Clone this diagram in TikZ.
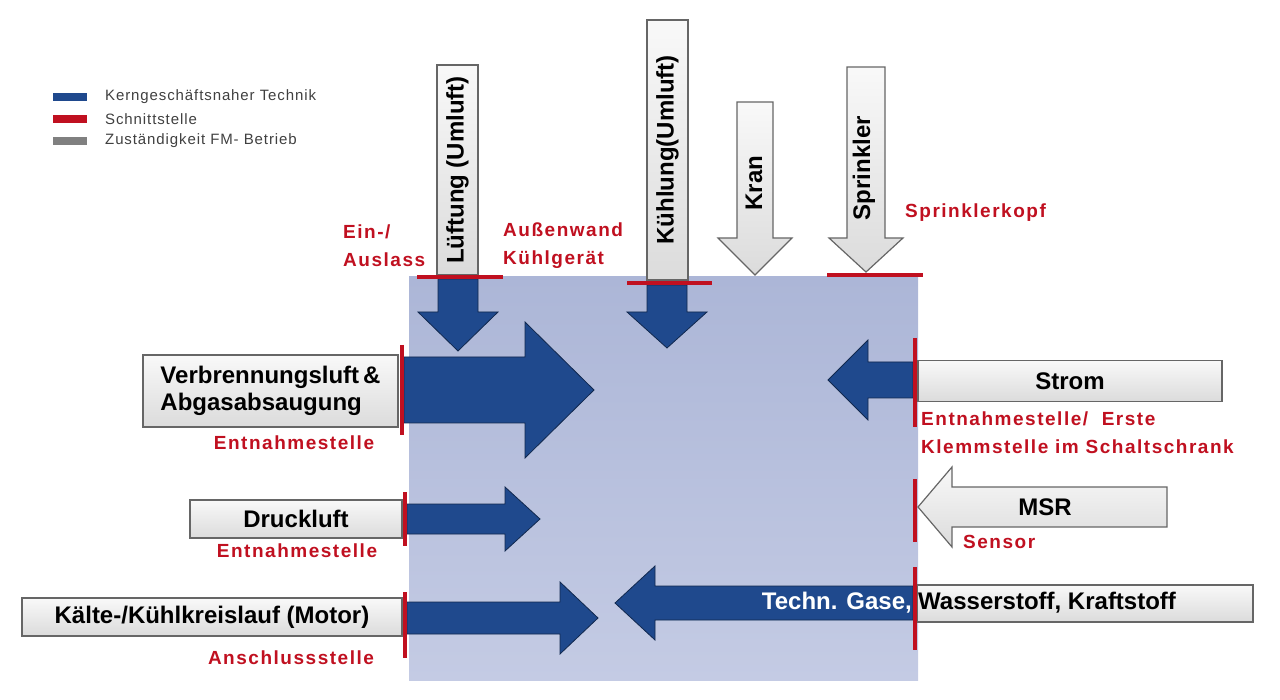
\documentclass[tikz,border=0pt]{standalone}
\usepackage{fontspec}
\setmainfont{Liberation Sans}
\usepackage{tikz}

\definecolor{kernblue}{RGB}{31,73,141}
\definecolor{schnittred}{RGB}{192,16,32}
\definecolor{fmgray}{RGB}{128,128,128}

\begin{document}
\begin{tikzpicture}[x=1pt,y=-1pt,
  graybox/.style={draw=black!60, line width=1.2pt, top color=gray!5, bottom color=gray!28},
  blueshape/.style={draw=kernblue!55!black, line width=0.8pt, fill=kernblue},
  schnitt/.style={draw=schnittred, line width=4pt},
  boxtext/.style={inner sep=0pt, font=\fontsize{24}{27}\selectfont\bfseries},
  redlabel/.style={inner sep=0pt, text=schnittred, align=left,
    font=\fontsize{19}{28}\selectfont\bfseries\addfontfeature{LetterSpace=8}},
  legendtext/.style={inner sep=0pt, anchor=west, text=black!75,
    font=\fontsize{15}{17}\selectfont\addfontfeature{LetterSpace=6}}]

\useasboundingbox (0,0) rectangle (1280,700);

% block arrow: style, base x, base y, angle, shaft length, tip, half shaft, half head
\def\blockarrow#1#2#3#4#5#6#7#8{%
\draw[#1,shift={(#2,#3)},rotate=#4] (0,-#7) -- (#5,-#7) -- (#5,-#8) -- (#6,0)
   -- (#5,#8) -- (#5,#7) -- (0,#7) -- cycle;}

% photo area
\shade[top color={rgb,255:red,172;green,182;blue,215}, bottom color={rgb,255:red,196;green,203;blue,228}]
    (409,277) rectangle (918,680);

% legend
\foreach \col/\yy/\txt in {kernblue/97/Kerngeschäftsnaher Technik,
    schnittred/119/Schnittstelle, fmgray/141/Zuständigkeit FM- Betrieb} {
\fill[\col] (53,\yy-4) rectangle (87,\yy+4);
\node[legendtext] (leg\yy) at (105,\yy) {\txt};
}

% blue arrows
\blockarrow{blueshape}{458}{279}{-90}{33}{72}{20}{40}
\blockarrow{blueshape}{667}{285}{-90}{27}{63}{20}{40}
\blockarrow{blueshape}{404}{390}{0}{121}{190}{33}{68}
\blockarrow{blueshape}{407}{519}{0}{98}{133}{15}{32}
\blockarrow{blueshape}{407}{618}{0}{153}{191}{16}{36}
\blockarrow{blueshape}{913}{380}{180}{45}{85}{18}{40}
\blockarrow{blueshape}{913}{603}{180}{258}{298}{17}{37}

% gray arrows
\blockarrow{graybox}{755}{102}{-90}{136}{173}{18}{37}
\blockarrow{graybox}{866}{67}{-90}{171}{205}{19}{37}
\blockarrow{graybox}{1167}{507}{180}{215}{249}{20}{40}
\draw[graybox] (917,585) rectangle (1253,622);

% gray boxes
\node[graybox, boxtext, minimum width=255, minimum height=72, align=left] (verbrennung)
    at (270.5,391) {Verbrennungsluft\,\&\\Abgasabsaugung};
\node[graybox, boxtext, minimum width=212, minimum height=38] (druckluft) at (296,519) {Druckluft};
\node[graybox, boxtext, minimum width=380, minimum height=38] (kaelte) at (212,617) {Kälte-/Kühlkreislauf (Motor)};
\node[graybox, boxtext, minimum width=304, minimum height=41] (strom) at (1070,381) {Strom};
\node[graybox, boxtext, rotate=90, minimum width=210, minimum height=41] (lueftung) at (457.5,170) {Lüftung (Umluft)};
\node[graybox, boxtext, rotate=90, minimum width=260, minimum height=41] (kuehlung) at (667.5,150) {Kühlung(Umluft)};

\node[boxtext, rotate=90] (kran) at (754,183) {Kran};
\node[boxtext, rotate=90] (sprinkler) at (864,168) {Sprinkler};
\node[boxtext] (msr) at (1045,507) {MSR};
\node[boxtext, anchor=east, text=white] (gase) at (912,603) {Techn. Gase,};
\node[boxtext, anchor=west] (wasserstoff) at (918,603) {Wasserstoff, Kraftstoff};

% Schnittstellen
\foreach \xa/\ya/\xb/\yb in {417/277/503/277, 627/283/712/283, 827/275/923/275,
    402/345/402/435, 405/492/405/546, 405/592/405/658,
    915/338/915/427, 915/479/915/542, 915/567/915/650}
\draw[schnitt] (\xa,\ya) -- (\xb,\yb);

\node[redlabel, anchor=west] (einauslass) at (343,246) {Ein-/\\Auslass};
\node[redlabel, anchor=west] (aussenwand) at (503,246) {Außenwand\\Kühlgerät};
\node[redlabel, anchor=west] (sprinklerkopf) at (905,213) {Sprinklerkopf};
\node[redlabel] (entnahmeA) at (294,443) {Entnahmestelle};
\node[redlabel] (entnahmeB) at (297,551) {Entnahmestelle};
\node[redlabel] (anschluss) at (291,658) {Anschlussstelle};
\node[redlabel, anchor=west] (klemme) at (921,433) {Entnahmestelle/\ \ Erste\\Klemmstelle im Schaltschrank};
\node[redlabel, anchor=west] (sensor) at (963,542) {Sensor};

\end{tikzpicture}
\end{document}
